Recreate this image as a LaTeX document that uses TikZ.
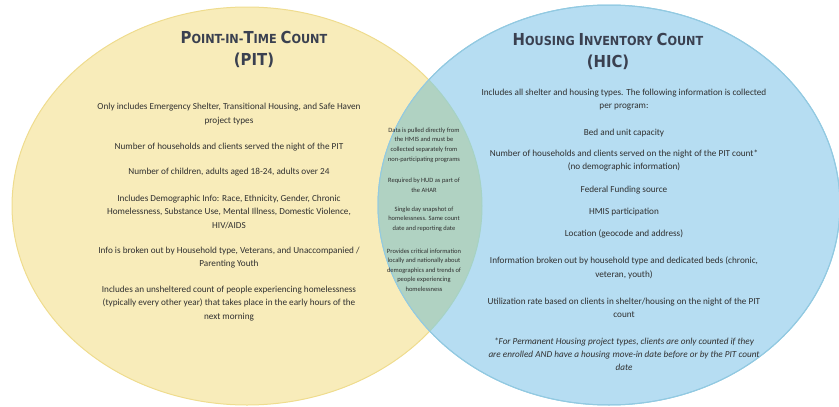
\documentclass[tikz,border=0pt]{standalone}
\usepackage{fontspec}
\setmainfont{Carlito}
\newfontfamily\titlefont{DejaVu Sans Condensed}
\usetikzlibrary{positioning}

\definecolor{pitfill}{HTML}{F8ECBA}
\definecolor{pitedge}{HTML}{EFDC8E}
\definecolor{hicfill}{HTML}{B6DDF2}
\definecolor{hicedge}{HTML}{8CC8E8}
\definecolor{lensfill}{HTML}{B0D2C2}
\definecolor{lensedge}{HTML}{A6D2C4}
\definecolor{ink}{HTML}{303030}
\definecolor{titleink}{HTML}{3A4050}

\newcommand\capbig[1]{{\fontsize{16.5}{22}\selectfont #1}}
\newcommand\capsmall[1]{{\fontsize{12.5}{22}\selectfont #1}}

\tikzset{
  titletext/.style={font=\titlefont\bfseries\fontsize{16.5}{22}\selectfont, text=titleink, align=center, inner sep=0pt},
  bodytext/.style={font=\fontsize{9.2}{13.3}\selectfont, text=ink, align=center, inner sep=0pt},
  lenstext/.style={font=\fontsize{6.5}{9.6}\selectfont, text=ink, align=center, inner sep=0pt}
}

\begin{document}
\begin{tikzpicture}[x=1pt,y=1pt]
		%%%%% START %%%%%
		\useasboundingbox (0,0) rectangle (839,-407);
		
		\draw[fill=pitfill, draw=pitedge, line width=1pt] (247,-206) ellipse (235 and 199);
		\draw[fill=hicfill, draw=hicedge, line width=1pt] (609,-205) ellipse (231 and 200);
		\begin{scope}
			\clip (609,-205) ellipse (231 and 200);
			\draw[fill=lensfill, draw=lensedge, line width=1pt] (247,-206) ellipse (235 and 199);
		\end{scope}
		\draw[draw=hicedge!80!lensfill, line width=1pt] (609,-205) ellipse (231 and 200);
		
		%%%%% PIT %%%%%
		\node[titletext] (pittitle) at (254,-49) {\capbig{P}\capsmall{OINT-IN-}\capbig{T}\capsmall{IME }\capbig{C}\capsmall{OUNT}\\\capbig{(PIT)}};
		
		\node[bodytext] (pit1) at (229,-114) {Only includes Emergency Shelter, Transitional Housing, and Safe Haven\\project types};
		\node[bodytext] (pit2) at (229,-147) {Number of households and clients served the night of the PIT};
		\node[bodytext] (pit3) at (229,-172) {Number of children, adults aged 18-24, adults over 24};
		\node[bodytext] (pit4) at (229,-211.7) {Includes Demographic Info: Race, Ethnicity, Gender, Chronic\\Homelessness, Substance Use, Mental Illness, Domestic Violence,\\HIV/AIDS};
		\node[bodytext] (pit5) at (229,-257.5) {Info is broken out by Household type, Veterans, and Unaccompanied /\\Parenting Youth};
		\node[bodytext] (pit6) at (229,-303.3) {Includes an unsheltered count of people experiencing homelessness\\(typically every other year) that takes place in the early hours of the\\next morning};
		
		%%%%% OVERLAP %%%%%
		\node[lenstext] (both1) at (424,-145) {Data is pulled directly from\\the HMIS and must be\\collected separately from\\non-participating programs};
		\node[lenstext] (both2) at (424,-185.5) {Required by HUD as part of\\the AHAR};
		\node[lenstext] (both3) at (424,-219) {Single day snapshot of\\homelessness. Same count\\date and reporting date};
		\node[lenstext] (both4) at (424,-270) {Provides critical information\\locally and nationally about\\demographics and trends of\\people experiencing\\homelessness};
		
		%%%%% HIC %%%%%
		\node[titletext] (hictitle) at (608,-51) {\capbig{H}\capsmall{OUSING }\capbig{I}\capsmall{NVENTORY }\capbig{C}\capsmall{OUNT}\\\capbig{(HIC)}};
		
		\node[bodytext] (hic1) at (624,-99.5) {Includes all shelter and housing types. The following information is collected\\per program:};
		\node[bodytext] (hic2) at (624,-133) {Bed and unit capacity};
		\node[bodytext] (hic3) at (624,-160.5) {Number of households and clients served on the night of the PIT count*\\(no demographic information)};
		\node[bodytext] (hic4) at (624,-190) {Federal Funding source};
		\node[bodytext] (hic5) at (624,-212) {HMIS participation};
		\node[bodytext] (hic6) at (624,-234) {Location (geocode and address)};
		\node[bodytext] (hic7) at (624,-268) {Information broken out by household type and dedicated beds (chronic,\\veteran, youth)};
		\node[bodytext] (hic8) at (624,-308) {Utilization rate based on clients in shelter/housing on the night of the PIT\\count};
		\node[bodytext, font=\fontsize{9.2}{13.3}\selectfont\itshape] (hic9) at (624,-354.3) {*For Permanent Housing project types, clients are only counted if they\\are enrolled AND have a housing move-in date before or by the PIT count\\date};
		
		%%%%% END %%%%%
\end{tikzpicture}
\end{document}
